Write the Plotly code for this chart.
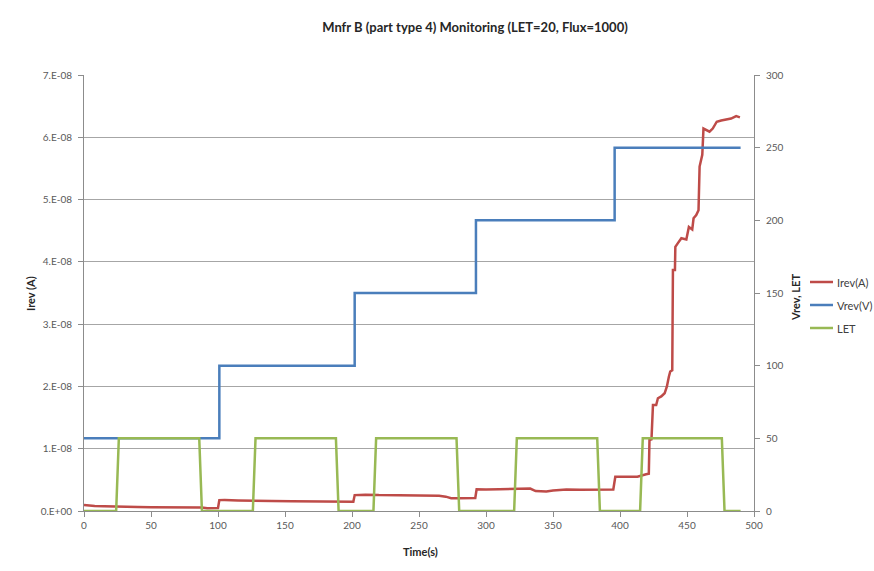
import plotly.graph_objects as go

# Reverse current, sampled over the run (time in s, current in A)
irev_time = [0, 3, 8, 15, 22, 30, 40, 50, 60, 70, 80, 88, 92, 97, 100,
             101, 105, 115, 125, 140, 155, 170, 180, 185, 195, 201,
             202, 210, 220, 235, 250, 265, 270, 274, 280, 287, 292,
             293, 300, 310, 320, 333, 337, 345, 350, 360, 370, 380, 390, 395,
             396.5, 405, 413, 419.5, 421.5, 422, 423.5, 424.6, 427, 428.3,
             430.8, 433.3, 435, 436.5, 437.5, 439, 439.5, 441, 441.3, 443.2,
             445.8, 449.5, 451.4, 453.9, 454.9, 456.9, 458.6, 459.4, 460.6,
             461.4, 462.3, 464.3, 466.8, 469.2, 472.2, 475.5, 479.2, 482.9,
             486.7, 489.5]
irev_amps = [0.95e-9, 0.85e-9, 0.80e-9, 0.78e-9, 0.72e-9, 0.70e-9, 0.65e-9,
             0.62e-9, 0.60e-9, 0.62e-9, 0.58e-9, 0.55e-9, 0.45e-9, 0.45e-9,
             0.47e-9,
             1.75e-9, 1.78e-9, 1.70e-9, 1.62e-9, 1.60e-9, 1.55e-9, 1.52e-9,
             1.50e-9, 1.55e-9, 1.52e-9, 1.50e-9,
             2.55e-9, 2.62e-9, 2.55e-9, 2.50e-9, 2.48e-9, 2.45e-9, 2.30e-9,
             2.05e-9, 2.05e-9, 2.10e-9, 2.10e-9,
             3.50e-9, 3.45e-9, 3.50e-9, 3.55e-9, 3.60e-9, 3.20e-9, 3.15e-9,
             3.30e-9, 3.45e-9, 3.40e-9, 3.42e-9, 3.40e-9, 3.45e-9,
             5.50e-9, 5.55e-9, 5.50e-9, 5.90e-9, 6.00e-9, 1.14e-8, 1.15e-8,
             1.70e-8, 1.70e-8, 1.81e-8, 1.84e-8, 1.89e-8, 2.00e-8, 2.16e-8,
             2.24e-8, 2.26e-8, 3.87e-8, 3.87e-8, 4.24e-8, 4.30e-8, 4.38e-8,
             4.36e-8, 4.56e-8, 4.52e-8, 4.70e-8, 4.75e-8, 4.83e-8, 5.53e-8,
             5.66e-8, 5.72e-8, 6.14e-8, 6.12e-8, 6.09e-8, 6.14e-8, 6.25e-8,
             6.27e-8, 6.29e-8, 6.30e-8, 6.34e-8, 6.32e-8]

# Reverse bias set points (held until the next change)
vrev_time = [0, 101, 202, 292.5, 396, 490]
vrev_volts = [50, 100, 150, 200, 250, 250]

# Beam LET, on/off cycles
let_time = [0, 24, 26, 86, 88, 126, 128, 188, 190, 216, 218, 278, 280,
            321, 323, 383, 385, 415, 417, 476, 478, 490]
let_value = [0, 0, 50, 50, 0, 0, 50, 50, 0, 0, 50, 50, 0,
             0, 50, 50, 0, 0, 50, 50, 0, 0]

left_ticks = [0, 1e-8, 2e-8, 3e-8, 4e-8, 5e-8, 6e-8, 7e-8]
left_tick_text = ["0.E+00", "1.E-08", "2.E-08", "3.E-08", "4.E-08",
                  "5.E-08", "6.E-08", "7.E-08"]
x_ticks = [0, 50, 100, 150, 200, 250, 300, 350, 400, 450, 500]
right_ticks = [0, 50, 100, 150, 200, 250, 300]

series_names = ["Irev(A)", "Vrev(V)", "LET"]
series_colors = ["#BE4B48", "#4A7EBB", "#98B954"]

FONT = "Lato"
TICK_COLOR = "#595959"
AXIS_COLOR = "#8c8c8c"

# plot area in pixels
PLOT_L, PLOT_R, PLOT_T, PLOT_B = 84, 754, 75, 511
PW, PH = PLOT_R - PLOT_L, PLOT_B - PLOT_T


def px_x(p):
    return (p - PLOT_L) / PW


def px_y(p):
    return (PLOT_B - p) / PH


fig = go.Figure()
fig.add_trace(go.Scatter(x=irev_time, y=irev_amps, name=series_names[0],
                         mode="lines", line=dict(color=series_colors[0], width=2.5),
                         yaxis="y"))
fig.add_trace(go.Scatter(x=vrev_time, y=vrev_volts, name=series_names[1],
                         mode="lines",
                         line=dict(color=series_colors[1], width=2.5, shape="hv"),
                         yaxis="y2"))
fig.add_trace(go.Scatter(x=let_time, y=let_value, name=series_names[2],
                         mode="lines", line=dict(color=series_colors[2], width=2.5),
                         yaxis="y2"))

fig.update_layout(
    width=874, height=571,
    margin=dict(l=PLOT_L, r=874 - PLOT_R, t=PLOT_T, b=571 - PLOT_B,
                autoexpand=False),
    paper_bgcolor="white", plot_bgcolor="white",
    font=dict(family=FONT, size=10, color=TICK_COLOR),
    showlegend=False,
    xaxis=dict(range=[0, 500], tickvals=x_ticks, showgrid=False,
               showline=True, linecolor=AXIS_COLOR, linewidth=1,
               ticks="outside", ticklen=5, tickcolor=AXIS_COLOR,
               zeroline=False, tickfont=dict(size=10, color=TICK_COLOR)),
    yaxis=dict(range=[0, 7e-8], tickvals=left_ticks, ticktext=left_tick_text,
               showgrid=True, gridcolor="#a6a6a6", gridwidth=1,
               showline=True, linecolor=AXIS_COLOR, linewidth=1,
               ticks="outside", ticklen=5, tickcolor=AXIS_COLOR,
               ticklabelstandoff=4, zeroline=False,
               tickfont=dict(size=10, color=TICK_COLOR)),
    yaxis2=dict(range=[0, 300], tickvals=right_ticks, overlaying="y",
                side="right", showgrid=False, showline=True,
                linecolor=AXIS_COLOR, linewidth=1, ticks="outside",
                ticklen=5, tickcolor=AXIS_COLOR, ticklabelstandoff=4,
                zeroline=False, tickfont=dict(size=10, color=TICK_COLOR)),
    title=dict(text="<b>Mnfr B (part type 4) Monitoring (LET=20, Flux=1000)</b>",
               x=475 / 874, xanchor="center", xref="container",
               y=1 - 27 / 571, yanchor="middle", yref="container",
               font=dict(family=FONT, size=13, color="#262626")),
)

# Legend to the right of the secondary axis: short line swatch + label
legend_rows = [282, 305, 328]
for name, color, row in zip(series_names, series_colors, legend_rows):
    fig.add_shape(type="line", xref="paper", yref="paper",
                  x0=px_x(810), x1=px_x(833), y0=px_y(row), y1=px_y(row),
                  line=dict(color=color, width=2.5))
    fig.add_annotation(text=name, xref="paper", yref="paper",
                       x=px_x(835), y=px_y(row), xanchor="left", yanchor="middle",
                       showarrow=False, font=dict(size=11, color="#404040"))

# Axis titles
fig.add_annotation(text="<b>Irev (A)</b>", xref="paper", yref="paper",
                   x=px_x(30), y=px_y(294), textangle=-90,
                   showarrow=False, font=dict(size=11, color="#262626"),
                   xanchor="center", yanchor="middle")
fig.add_annotation(text="<b>Vrev, LET</b>", xref="paper", yref="paper",
                   x=px_x(795), y=px_y(298), textangle=-90,
                   showarrow=False, font=dict(size=11, color="#262626"),
                   xanchor="center", yanchor="middle")
fig.add_annotation(text="<b>Time(s)</b>", xref="paper", yref="paper",
                   x=px_x(420), y=px_y(551),
                   showarrow=False, font=dict(size=11, color="#262626"),
                   xanchor="center", yanchor="middle")

fig.write_html("out.html")
